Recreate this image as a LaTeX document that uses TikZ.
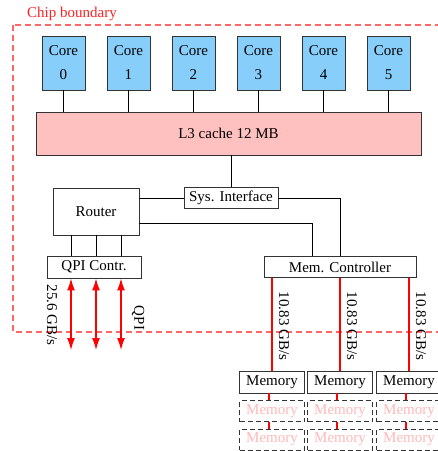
\documentclass[tikz,border=0pt]{standalone}
\usepackage{fontspec}
\setmainfont{Liberation Serif}
\usetikzlibrary{arrows.meta,calc}
\definecolor{coreblue}{HTML}{87CEFA}
\definecolor{cachepink}{HTML}{FFC0C0}
\definecolor{chipred}{HTML}{FF6666}
\definecolor{labelred}{HTML}{FF2020}
\definecolor{ghostpink}{HTML}{FFB8B8}
\definecolor{boxgray}{HTML}{333333}
\begin{document}
\begin{tikzpicture}[x=1pt,y=-1pt,
  font=\fontsize{15}{18}\selectfont,
  box/.style={draw=boxgray,line width=0.9pt,inner sep=0pt,align=center},
  corebox/.style={box,fill=coreblue,minimum width=43pt,minimum height=54pt},
  membox/.style={box,minimum width=65pt,minimum height=22pt},
  ghostbox/.style={draw=boxgray,line width=0.9pt,dash pattern=on 5pt off 3pt,inner sep=0pt,minimum width=65pt,minimum height=21pt,text=ghostpink},
  wire/.style={draw=black,line width=0.8pt},
  memlink/.style={draw=red,line width=2.2pt},
  qpilink/.style={draw=red,line width=1.2pt,{Latex[length=12pt,width=8pt]}-{Latex[length=12pt,width=8pt]}},
  rotlabel/.style={rotate=-90,inner sep=0pt}
]
\useasboundingbox (0,0) rectangle (438,451);
\clip (0,0) rectangle (438,451);
% chip boundary
\draw[chipred,line width=1.2pt,dash pattern=on 6pt off 4pt] (13,25) rectangle (470,332);
\node[text=labelred,anchor=west,inner sep=0pt] (chiplabel) at (27,14) {Chip boundary};
% cores
\foreach \i in {0,...,5}{
  \node[corebox] (core\i) at ({63.5+65*\i},63) {Core\\[6pt]\i};
}
% L3 cache
\node[box,fill=cachepink,minimum width=385pt,minimum height=43pt] (l3) at (228.5,133.5) {L3 cache 12 MB};
\foreach \i in {0,...,5}{
  \draw[wire] (core\i.south) -- (core\i.south |- l3.north);
}
% router, sys interface
\node[box,minimum width=86pt,minimum height=47pt] (router) at (96,211.5) {Router};
\node[box,minimum width=94pt,minimum height=21pt] (sys) at (231,198) {Sys. Interface};
\node[box,minimum width=152pt,minimum height=21pt] (mc) at (340,267) {Mem. Controller};
\node[box,minimum width=94pt,minimum height=22pt] (qpi) at (94,267) {QPI Contr.};
\draw[wire] (sys.north |- l3.south) -- (sys.north);
\draw[wire] (router.east |- sys.west) -- (sys.west);
\draw[wire] ([yshift=-11.5pt]router.east) -| ([xshift=-28pt]mc.north);
\draw[wire] (sys.east) -| (mc.north);
\foreach \x/\n in {71/a,96/b,121/c}{
  \coordinate (rq\n) at (\x,250);
  \draw[wire] (router.south -| rq\n) -- (qpi.north -| rq\n);
}
% QPI arrows
\foreach \x/\n in {71/a,96/b,121/c}{
  \coordinate (qend\n) at (\x,350);
  \draw[qpilink] (qpi.south -| qend\n) -- (qend\n);
}
\node[rotlabel] (qpibw) at (52,315) {25.6 GB/s};
\node[rotlabel] (qpilabel) at (138,318) {QPI};
% memory
\foreach \x/\n in {272/0,340/1,409/2}{
  \node[membox] (mem\n) at (\x,382) {Memory};
  \node[ghostbox] (memb\n) at (\x,411) {Memory};
  \node[ghostbox] (memc\n) at (\x,439.5) {Memory};
  \draw[memlink] (mc.south -| mem\n.north) -- (mem\n.north);
  \node[rotlabel] (bw\n) at (\x+12,326) {10.83 GB/s};
  \draw[memlink] ([xshift=-3pt]mem\n.south) -- ([xshift=-3pt]memb\n.north);
  \draw[memlink] ([xshift=-3pt]memb\n.south) -- ([xshift=-3pt]memc\n.north);
}
\end{tikzpicture}
\end{document}
